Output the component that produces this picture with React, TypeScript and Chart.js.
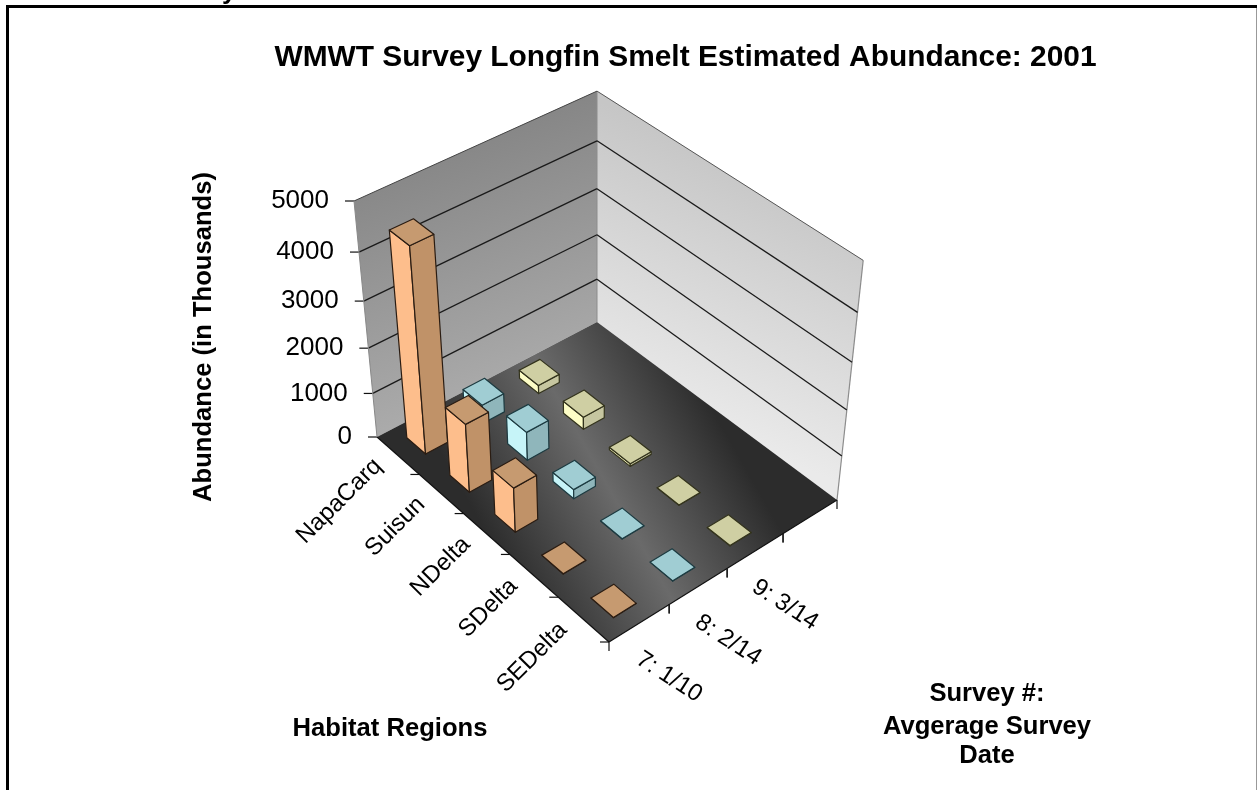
import React, { useEffect, useRef } from "react";
import { Chart, BarController, registerables } from "chart.js";

Chart.register(...registerables);

const title = "WMWT Survey Longfin Smelt Estimated Abundance: 2001";
const regions = ["NapaCarq", "Suisun", "NDelta", "SDelta", "SEDelta"];
const surveys = ["7: 1/10", "8: 2/14", "9: 3/14", ""];
const survey7 = [4450, 1530, 1000, 5, 5];
const survey8 = [420, 640, 210, 5, 5];
const survey9 = [190, 280, 60, 5, 5];
const valueTicks = [0, 1000, 2000, 3000, 4000, 5000];

// Projection of the 3D box: floor corners and top corners of the walls
const A = [377, 437], B = [609, 642], C = [837, 500], D = [597, 322];
const At = [354, 201], Dt = [597, 91];

function makeProjection() {
  const dx1 = B[0] - C[0], dx2 = D[0] - C[0], sx = A[0] - B[0] + C[0] - D[0];
  const dy1 = B[1] - C[1], dy2 = D[1] - C[1], sy = A[1] - B[1] + C[1] - D[1];
  const den = dx1 * dy2 - dx2 * dy1;
  const g = (sx * dy2 - dx2 * sy) / den;
  const h = (dx1 * sy - sx * dy1) / den;
  const a = B[0] - A[0] + g * B[0], b = D[0] - A[0] + h * D[0], c = A[0];
  const d = B[1] - A[1] + g * B[1], e = D[1] - A[1] + h * D[1], f = A[1];
  const k = (Dt[0] * (1 + h) - b - At[0]) / (At[0] - Dt[0]);
  const a3 = At[0] * (1 + k) - c;
  const b3 = At[1] * (1 + k) - f;
  return (u: number, v: number, w: number): [number, number] => {
    const q = g * u + h * v + k * w + 1;
    return [(a * u + b * v + a3 * w + c) / q, (d * u + e * v + b3 * w + f) / q];
  };
}
const project = makeProjection();

const dec = (scale: any, value: number) => scale.getDecimalForPixel(scale.getPixelForValue(value));

function poly(ctx: CanvasRenderingContext2D, pts: number[][], fill: any, stroke?: string, lw = 1) {
  ctx.beginPath();
  pts.forEach((p, i) => (i ? ctx.lineTo(p[0], p[1]) : ctx.moveTo(p[0], p[1])));
  ctx.closePath();
  if (fill) {
    ctx.fillStyle = fill;
    ctx.fill();
  }
  if (stroke) {
    ctx.strokeStyle = stroke;
    ctx.lineWidth = lw;
    ctx.lineJoin = "round";
    ctx.stroke();
  }
}

function line(ctx: CanvasRenderingContext2D, p: number[], q: number[], color: string, lw: number) {
  ctx.beginPath();
  ctx.moveTo(p[0], p[1]);
  ctx.lineTo(q[0], q[1]);
  ctx.strokeStyle = color;
  ctx.lineWidth = lw;
  ctx.stroke();
}

class Bar3DController extends BarController {
  static id = "bar3d";
  static defaults = BarController.defaults;
  static overrides = BarController.overrides;
  draw() {
    const chart: any = this.chart;
    const ctx = chart.ctx;
    const ds: any = this.getDataset();
    const { x, y, survey } = chart.scales;
    const vc = dec(survey, ds.surveyIndex);
    const hu = ds.regionShare / (2 * regions.length);
    const hv = ds.surveyShare / (2 * surveys.length);
    ds.data.forEach((val: number, i: number) => {
      const uc = dec(x, i);
      const w = dec(y, val);
      const u0 = uc - hu, u1 = uc + hu, v0 = vc - hv, v1 = vc + hv;
      const leftFace = [project(u0, v0, 0), project(u1, v0, 0), project(u1, v0, w), project(u0, v0, w)];
      const rightFace = [project(u1, v0, 0), project(u1, v1, 0), project(u1, v1, w), project(u1, v0, w)];
      const top = [project(u0, v0, w), project(u1, v0, w), project(u1, v1, w), project(u0, v1, w)];
      poly(ctx, leftFace, ds.lightColor, ds.edgeColor, 1.2);
      poly(ctx, rightFace, ds.darkColor, ds.edgeColor, 1.2);
      poly(ctx, top, ds.topColor, ds.edgeColor, 1.2);
    });
  }
}
Chart.register(Bar3DController);

const stagePlugin = {
  id: "stage",
  beforeDatasetsDraw(chart: any) {
    const ctx: CanvasRenderingContext2D = chart.ctx;
    const { x, y, survey } = chart.scales;
    ctx.save();
    ctx.fillStyle = "#000";
    ctx.font = "bold 26px 'Liberation Sans'";
    ctx.textAlign = "left";
    ctx.textBaseline = "alphabetic";
    ctx.fillText("y", 222, -1);
    ctx.fillRect(6, 5, 1251, 3);
    ctx.fillRect(6, 5, 3, 785);
    ctx.fillStyle = "#999";
    ctx.fillRect(1256, 8, 1, 782);

    const p000 = project(0, 0, 0), p010 = project(0, 1, 0), p110 = project(1, 1, 0), p100 = project(1, 0, 0);
    const p001 = project(0, 0, 1), p011 = project(0, 1, 1), p111 = project(1, 1, 1);

    // left wall
    const gl = ctx.createLinearGradient(354, 120, 470, 440);
    gl.addColorStop(0, "#7e7e7e");
    gl.addColorStop(1, "#b0b0b0");
    poly(ctx, [p000, p010, p011, p001], gl);
    // right wall
    const gr = ctx.createLinearGradient(740, 160, 640, 400);
    gr.addColorStop(0, "#c6c6c6");
    gr.addColorStop(1, "#eaeaea");
    poly(ctx, [p010, p110, p111, p011], gr);
    line(ctx, p010, p011, "#8c8c8c", 1);
    line(ctx, p110, p111, "#8c8c8c", 1.2);
    // floor: dark along the two long edges, light band through the middle
    const fa = project(0.5, 0, 0), fb = project(0.5, 1, 0);
    const gf = ctx.createLinearGradient(fa[0], fa[1], fb[0], fb[1]);
    gf.addColorStop(0, "#2c2c2c");
    gf.addColorStop(0.5, "#6a6a6a");
    gf.addColorStop(1, "#2c2c2c");
    poly(ctx, [p000, p100, p110, p010], gf);

    // gridlines + value axis
    ctx.font = "26px 'Liberation Sans'";
    ctx.textAlign = "right";
    ctx.textBaseline = "middle";
    y.ticks.forEach((t: any) => {
      const w = dec(y, t.value);
      const a = project(0, 0, w), b = project(0, 1, w), c = project(1, 1, w);
      if (t.value > 0) {
        const strong = t.value < y.max;
        line(ctx, a, b, strong ? "#1a1a1a" : "#444", strong ? 1.3 : 1);
        line(ctx, b, c, strong ? "#1a1a1a" : "#555", strong ? 1.3 : 1);
      }
      line(ctx, a, [a[0] - 9, a[1]], "#111", 1.2);
      ctx.fillStyle = "#000";
      ctx.fillText(String(t.value), a[0] - 25, a[1]);
    });
    line(ctx, p000, p001, "#888", 1);

    // region axis
    line(ctx, p000, p100, "#111", 1.2);
    regions.forEach((_, i) => {
      const p = project((i + 1) / regions.length, 0, 0);
      line(ctx, p, [p[0] - 9, p[1]], "#111", 1.2);
    });
    ctx.fillStyle = "#000";
    ctx.font = "24px 'Liberation Sans'";
    regions.forEach((r, i) => {
      const p = project(dec(x, i), 0, 0);
      ctx.save();
      ctx.translate(p[0] - 20, p[1] + 7);
      ctx.rotate(-Math.PI / 4);
      ctx.textAlign = "right";
      ctx.textBaseline = "middle";
      ctx.fillText(r, 0, 0);
      ctx.restore();
    });

    // survey axis
    line(ctx, p100, p110, "#111", 1.2);
    surveys.forEach((_, j) => {
      [j, j + 1].forEach((k) => {
        const p = project(1, k / surveys.length, 0);
        line(ctx, p, [p[0], p[1] + 9], "#111", 1.2);
      });
    });
    surveys.forEach((s, j) => {
      const p = project(1, dec(survey, j), 0);
      ctx.save();
      ctx.translate(p[0] - 1, p[1] + 34);
      ctx.rotate((33 * Math.PI) / 180);
      ctx.textAlign = "left";
      ctx.textBaseline = "middle";
      ctx.fillStyle = "#000";
      ctx.fillText(s, 0, 0);
      ctx.restore();
    });

    // axis titles
    ctx.font = "bold 25.6px 'Liberation Sans'";
    ctx.textAlign = "center";
    ctx.textBaseline = "middle";
    ctx.fillStyle = "#000";
    ctx.fillText("Habitat Regions", 390, 729);
    ctx.fillText("Survey #:", 987, 694);
    ctx.fillText("Avgerage Survey", 987, 727);
    ctx.fillText("Date", 987, 756);
    ctx.save();
    ctx.translate(204, 337);
    ctx.rotate(-Math.PI / 2);
    ctx.fillText("Abundance (in Thousands)", 0, 0);
    ctx.restore();
    ctx.restore();
  },
};

const orange = { lightColor: "#fdbe8c", darkColor: "#c09268", topColor: "#c69a70", edgeColor: "#2a1c12" };
const cyan = { lightColor: "#c6f4f8", darkColor: "#8fb6bb", topColor: "#a0cdd3", edgeColor: "#1c3a40" };
const yellow = { lightColor: "#fdfdc6", darkColor: "#c6c6a0", topColor: "#cfcfa3", edgeColor: "#33331c" };
const shares = { regionShare: 0.44, surveyShare: 0.38 };

export default function App() {
  const ref = useRef<HTMLCanvasElement>(null);
  useEffect(() => {
    const chart = new Chart(ref.current as HTMLCanvasElement, {
      type: "bar3d" as any,
      data: {
        labels: regions,
        datasets: [
          { label: surveys[0], data: survey7, surveyIndex: 0, clip: false, ...shares, ...orange },
          { label: surveys[1], data: survey8, surveyIndex: 1, clip: false, ...shares, ...cyan },
          { label: surveys[2], data: survey9, surveyIndex: 2, clip: false, ...shares, ...yellow },
        ] as any,
      },
      options: {
        responsive: false,
        animation: false,
        events: [],
        layout: { padding: { left: 114 } },
        plugins: {
          legend: { display: false },
          tooltip: { enabled: false },
          title: {
            display: true,
            text: title,
            color: "#000",
            font: { family: "'Liberation Sans'", size: 29.9, weight: "bold" },
            padding: { top: 40, bottom: 10 },
          },
        },
        scales: {
          x: { type: "category", display: false, labels: regions, offset: true },
          survey: { type: "category", axis: "x", display: false, labels: surveys, offset: true },
          y: { type: "linear", display: false, min: valueTicks[0], max: valueTicks[valueTicks.length - 1], ticks: { stepSize: valueTicks[1] } },
        },
      } as any,
      plugins: [stagePlugin],
    });
    return () => chart.destroy();
  }, []);
  return (
    <div style={{ position: "fixed", left: 0, top: 0, width: 1257, height: 790, background: "#fff" }}>
      <canvas ref={ref} width={1257} height={790} style={{ display: "block" }} />
    </div>
  );
}
